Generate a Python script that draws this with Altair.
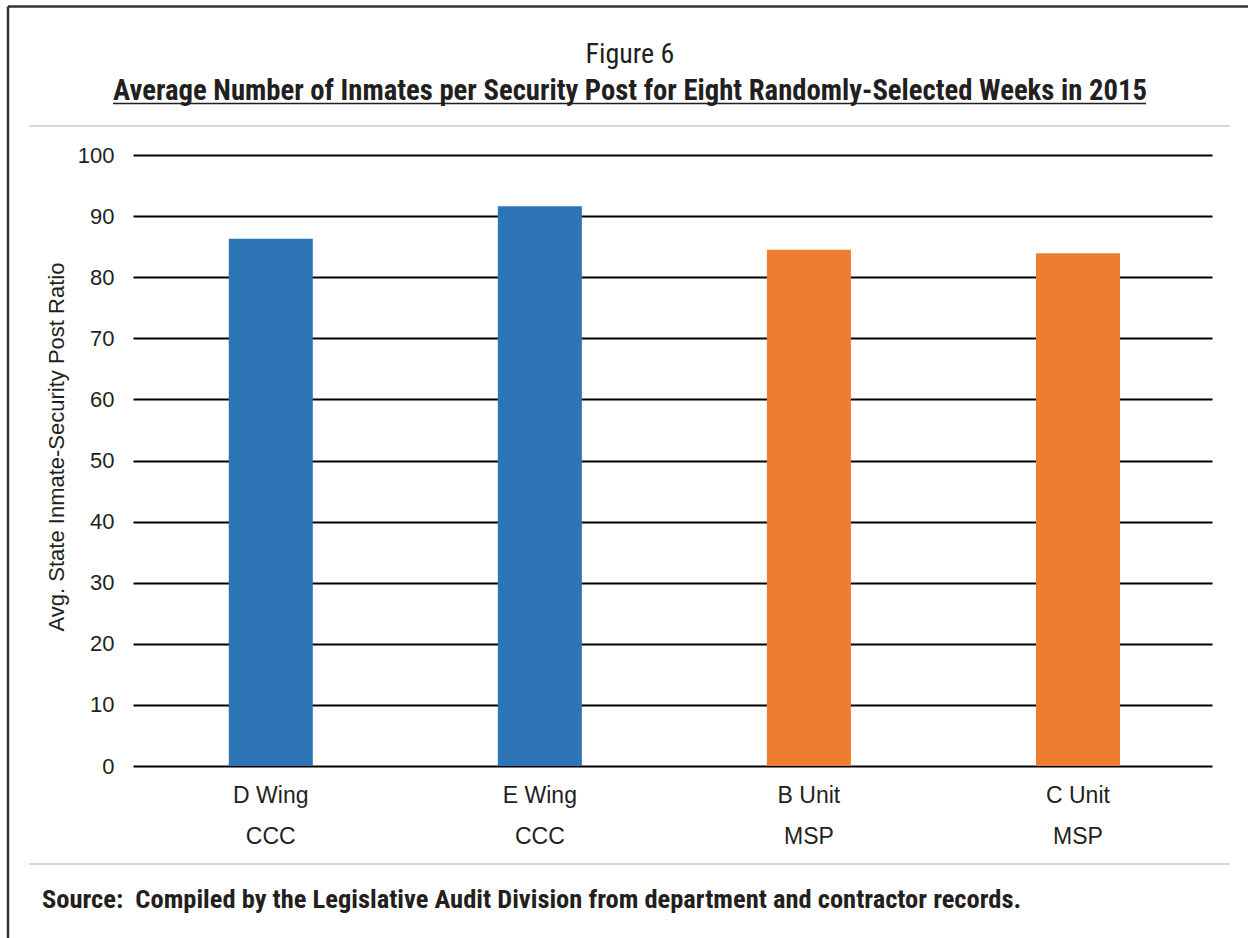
import altair as alt
import pandas as pd

units = ["D Wing", "E Wing", "B Unit", "C Unit"]
facilities = ["CCC", "CCC", "MSP", "MSP"]
ratios = [86.3, 91.6, 84.5, 83.9]
y_ticks = [0, 10, 20, 30, 40, 50, 60, 70, 80, 90, 100]

title_text = "Figure 6"
subtitle_text = "Average Number of Inmates per Security Post for Eight Randomly-Selected Weeks in 2015"
source_text = "Source:\u00a0 Compiled by the Legislative Audit Division from department and contractor records."
y_title = "Avg. State Inmate-Security Post Ratio"

df = pd.DataFrame({
    "label": [f"{u}|{f}" for u, f in zip(units, facilities)],
    "facility": facilities,
    "ratio": ratios,
})

W, H = 1079, 611
PAD = {"left": 133, "top": 155, "right": 36, "bottom": 172}
TXT = "#231f20"
REG = "Liberation Sans"
NARROW = "'Roboto Condensed', 'Liberation Sans'"

bars = alt.Chart(df).mark_bar().encode(
    x=alt.X("label:N", sort=None,
            scale=alt.Scale(paddingInner=0.6877, paddingOuter=0.349, align=0.51),
            axis=alt.Axis(title=None, labelExpr="split(datum.value, '|')",
                          labelAngle=0, labelFont=REG, labelFontSize=23,
                          labelColor=TXT, labelLineHeight=41, labelPadding=18,
                          labelBaseline="top", ticks=False, domain=False,
                          grid=False)),
    y=alt.Y("ratio:Q",
            scale=alt.Scale(domain=[0, 100], nice=False),
            axis=alt.Axis(title=y_title, values=y_ticks, grid=True,
                          gridColor="#000000", gridWidth=2, gridOpacity=1,
                          domain=False, ticks=False, tickSize=0,
                          labelFont=REG, labelFontSize=22, labelColor=TXT,
                          labelPadding=19,
                          titleFont=REG, titleFontSize=22, titleFontWeight="normal",
                          titleColor=TXT, titleX=-70, titleY=291.5,
                          titleAngle=270, titleAlign="center",
                          titleBaseline="alphabetic")),
    color=alt.Color("facility:N",
                    scale=alt.Scale(domain=["CCC", "MSP"], range=["#2e75b6", "#ed7d31"]),
                    legend=None),
)

one = pd.DataFrame({"k": [0]})
base = alt.Chart(one)

def hrule(x1, x2, y, color, width):
    return base.mark_rule(color=color, strokeWidth=width).encode(
        x=alt.value(x1), x2=alt.value(x2), y=alt.value(y))

def vrule(x, y1, y2, color, width):
    return base.mark_rule(color=color, strokeWidth=width).encode(
        x=alt.value(x), y=alt.value(y1), y2=alt.value(y2))

def text(s, x, y, font, size, weight="normal", align="center"):
    return base.mark_text(font=font, fontSize=size, fontWeight=weight, color=TXT,
                          align=align, baseline="alphabetic").encode(
        x=alt.value(x), y=alt.value(y), text=alt.value(s))

layers = [
    hrule(-125, 1115, -148.5, "#333333", 2.5),
    vrule(-125, -148.5, 783, "#333333", 2.5),
    hrule(-104, 1097, -29, "#d9d9d9", 2),
    hrule(-104, 1097, 709, "#d9d9d9", 2),
    text(title_text, 497, -91.7, NARROW, 28),
    text(subtitle_text, 497, -55, NARROW, 28.7, "bold"),
    hrule(-20, 1013, -51.5, TXT, 1.5),
    text(source_text, -91, 753, NARROW, 26.5, "bold", "left"),
    bars,
]

chart = alt.layer(*layers).properties(
    width=W, height=H, padding=PAD, background="white",
    autosize=alt.AutoSizeParams(type="none"),
).configure_view(stroke=None)

chart.save("out.html", embed_options={"renderer": "svg", "actions": False})
